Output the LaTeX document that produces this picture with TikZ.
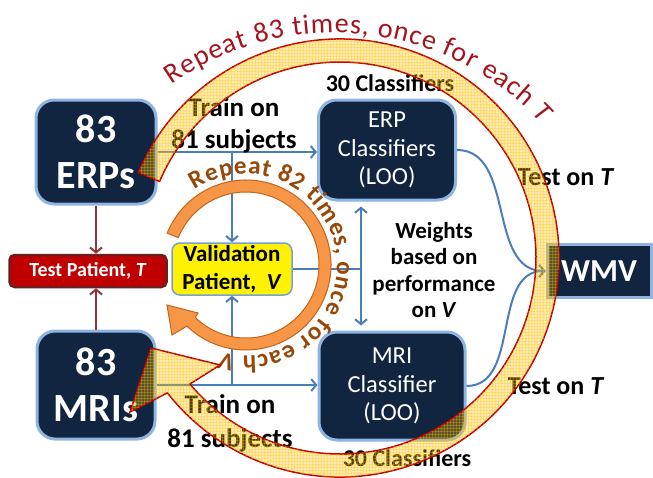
\documentclass[tikz,border=0pt]{standalone}
\usepackage{fontspec}
\setmainfont{Carlito}
\definecolor{navy1}{RGB}{17, 36, 64}
\definecolor{edgeblue}{RGB}{141, 180, 226}
\definecolor{linkblue}{RGB}{74, 126, 187}
\definecolor{linkred}{RGB}{140, 56, 54}
\definecolor{testred}{RGB}{192, 0, 0}
\definecolor{testedge}{RGB}{110, 30, 30}
\definecolor{valedge}{RGB}{120, 160, 215}
\definecolor{ringyellow}{RGB}{255, 192, 0}
\definecolor{ringred}{RGB}{192, 0, 0}
\definecolor{textred}{RGB}{165, 20, 30}
\definecolor{loopfill}{RGB}{247, 150, 70}
\definecolor{loopedge}{RGB}{196, 100, 30}
\definecolor{loopbrown}{RGB}{152, 72, 6}
\usetikzlibrary{arrows.meta, calc, decorations.text, patterns}

\tikzset{
  databox/.style={draw=edgeblue, line width=3pt, fill=navy1, rounded corners=18pt, text=white, align=center, inner sep=0pt},
  lbl/.style={align=center, inner sep=0pt, font=\bfseries\fontsize{24}{28}\selectfont},
  flow/.style={draw=linkblue, line width=2pt},
  redflow/.style={draw=linkred, line width=2pt},
  ringarrow/.style={fill=ringyellow, fill opacity=0.3, draw=ringred, draw opacity=1, line width=1.5pt,
    postaction={pattern=horizontal lines, pattern color=ringyellow, opacity=0.3},
    postaction={pattern=vertical lines, pattern color=ringyellow, opacity=0.3}}
}

\begin{document}
\begin{tikzpicture}[x=1pt, y=-1pt, >={Straight Barb[length=5pt,width=12pt]}]
  \fill[white] (0,0) rectangle (653,477);
  \useasboundingbox (0,0) rectangle (653,477);

  % data sets and classifiers
  \node[databox, minimum width=120pt, minimum height=104pt, font=\bfseries\fontsize{40}{46}\selectfont] (erps) at (96,152) {83\\ERPs};
  \node[databox, minimum width=118pt, minimum height=108pt, font=\bfseries\fontsize{40}{46}\selectfont] (mris) at (96,385) {83\\MRIs};
  \node[databox, minimum width=137pt, minimum height=100pt, font=\fontsize{24.5}{28.5}\selectfont] (erpclf) at (387,150) {ERP\\Classifiers\\(LOO)};
  \node[databox, minimum width=146pt, minimum height=108pt, font=\fontsize{24.5}{28.5}\selectfont] (mriclf) at (392,386) {MRI\\Classifier\\(LOO)};
  \node[databox, rounded corners=0pt, minimum width=104pt, minimum height=53pt, font=\bfseries\fontsize{32}{36}\selectfont] (wmv) at (599,271) {WMV};

  % patients
  \node[draw=testedge, line width=2.5pt, fill=testred, rounded corners=5pt, minimum width=157pt, minimum height=32pt, inner sep=0pt, text=white, font=\bfseries\fontsize{20}{24}\selectfont] (tp) at (88,271) {Test Patient, \textit{T}};
  \node[draw=valedge, line width=1.5pt, fill=yellow, rounded corners=8pt, minimum width=120pt, minimum height=52pt, inner sep=0pt, align=center, font=\bfseries\fontsize{23}{28}\selectfont] (val) at (232,269) {Validation\\Patient,~~\textit{V}};

  % training and validation links
  \draw[flow, ->] (erps.east) -- (erps.east -| erpclf.west);
  \draw[flow, ->] (val.north |- erps.east) -- (val.north);
  \draw[flow, ->] (mris.east) -- (mris.east -| mriclf.west);
  \draw[flow, ->] (val.south |- mris.east) -- (val.south);
  \coordinate (wbar) at (361,269);
  \draw[flow] (val.east) -- (wbar);
  \draw[flow, <->, shorten <=5pt, shorten >=5pt] (wbar |- erpclf.south) -- (wbar |- mriclf.north);
  \draw[flow, ->] (erpclf.east) to[out=0, in=180] (wmv.west);
  \draw[flow, ->] (mriclf.east) to[out=0, in=180] (wmv.west);
  \draw[redflow, ->] (erps.south) -- (erps.south |- tp.north);
  \draw[redflow, ->] (mris.north) -- (mris.north |- tp.south);

  % labels
  \node[lbl, font=\bfseries\fontsize{27}{32}\selectfont] (trainerp) at (234,125) {Train on\\81 subjects};
  \node[lbl, font=\bfseries\fontsize{27}{34}\selectfont] (trainmri) at (230,423) {Train on\\81 subjects};
  \node[lbl] (nerp) at (390,83) {30 Classifiers};
  \node[lbl] (nmri) at (407,458) {30 Classifiers};
  \node[lbl, font=\bfseries\fontsize{26}{30}\selectfont] (testerp) at (566,177) {Test on \textit{T}};
  \node[lbl, font=\bfseries\fontsize{26}{30}\selectfont] (testmri) at (556,386) {Test on \textit{T}};
  \node[lbl, font=\bfseries\fontsize{23}{26.5}\selectfont] (wlabel) at (434,270) {Weights\\based on\\performance\\on \textit{V}};

  % inner loop over V
  \coordinate (loopc) at (246,265);
  \filldraw[draw=loopedge, fill=loopfill, line width=1pt] ($(loopc)+(202:85)$) arc[start angle=202, end angle=494, radius=85]
    -- (172,335) -- (167,305) -- (198,313) -- ($(loopc)+(494:73)$) arc[start angle=494, end angle=202, radius=73] -- cycle;
  \path[decorate, decoration={text along path, text={|\bfseries\fontsize{25}{29}\selectfont|Repeat 82 times, once for each |+\itshape|V}, text color=loopbrown, text align={fit to path}}]
    ($(loopc)+(236:91)$) arc[start angle=236, end angle=466, radius=91];

  % outer loop over T
  \coordinate (ringc) at (340,258);
  \path[ringarrow] ($(ringc)+(203:219)$) arc[start angle=203, end angle=502, radius=219]
    -- (130,412) -- (151,348) -- (220,365) -- ($(ringc)+(500:196)$) arc[start angle=500, end angle=203, radius=196] -- cycle;
  \coordinate (archc) at (334,316);
  \path[decorate, decoration={text along path, text={|\fontsize{28}{32}\selectfont|Repeat 83 times, once for each |+\itshape|T}, text color=textred, text align={fit to path}}]
    ($(archc)+(235:283)$) arc[start angle=235, end angle=317, radius=283];
\end{tikzpicture}
\end{document}
